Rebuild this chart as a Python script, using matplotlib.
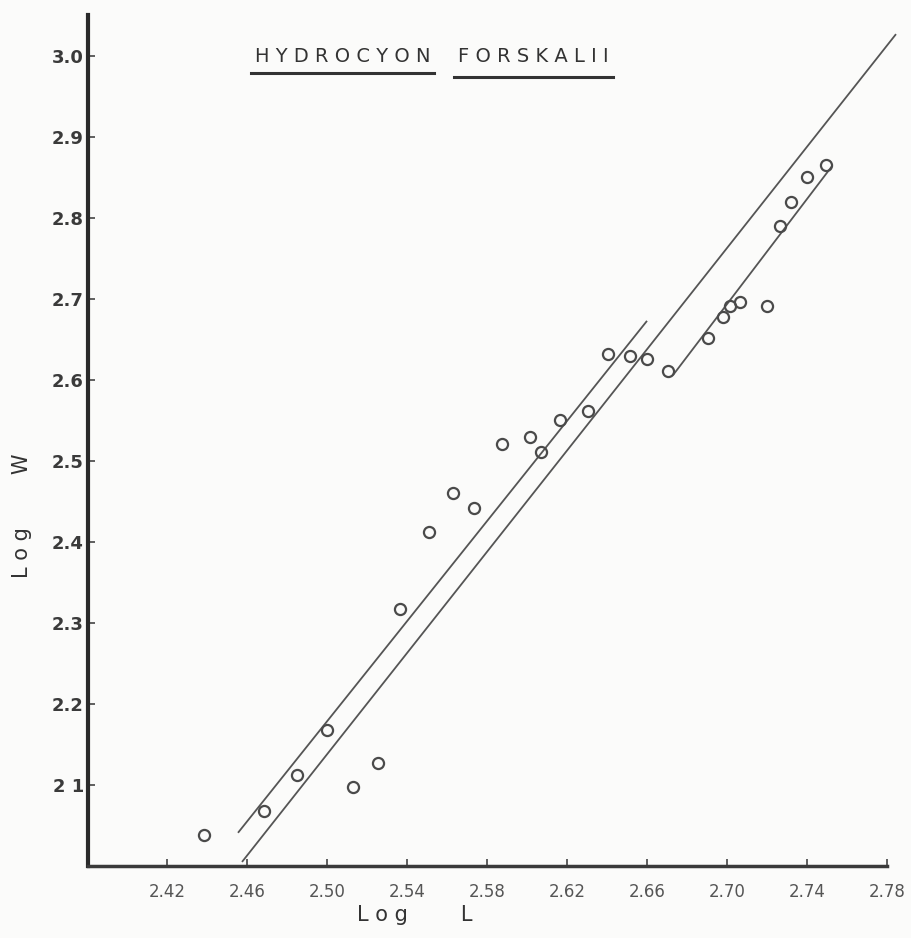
import matplotlib
matplotlib.use("Agg")
import matplotlib.pyplot as plt
from matplotlib.lines import Line2D

# ---- data ----
log_L = [2.4385, 2.4685, 2.485, 2.500, 2.513, 2.5255, 2.5365, 2.551, 2.563, 2.5735,
         2.5875, 2.6015, 2.607, 2.6165, 2.6305, 2.6405, 2.6515, 2.660, 2.6705,
         2.6905, 2.698, 2.7015, 2.7065, 2.720, 2.7265, 2.732, 2.740, 2.7495]
log_W = [2.038, 2.068, 2.112, 2.168, 2.098, 2.127, 2.317, 2.412, 2.460, 2.442,
         2.521, 2.530, 2.511, 2.551, 2.562, 2.632, 2.630, 2.626, 2.611,
         2.652, 2.678, 2.691, 2.696, 2.691, 2.790, 2.820, 2.851, 2.865]

# fitted lines (end points)
line_upper_L = [2.4555, 2.660]
line_upper_W = [2.041, 2.673]
line_long_L = [2.4575, 2.7845]
line_long_W = [2.005, 3.027]
line_short_L = [2.673, 2.7525]
line_short_W = [2.606, 2.864]

x_ticks = [2.42, 2.46, 2.50, 2.54, 2.58, 2.62, 2.66, 2.70, 2.74, 2.78]
x_tick_labels = ["2.42", "2.46", "2.50", "2.54", "2.58", "2.62", "2.66", "2.70", "2.74", "2.78"]
y_ticks = [2.1, 2.2, 2.3, 2.4, 2.5, 2.6, 2.7, 2.8, 2.9, 3.0]
y_tick_labels = ["2 1", "2.2", "2.3", "2.4", "2.5", "2.6", "2.7", "2.8", "2.9", "3.0"]

W, H = 912, 938
fig = plt.figure(figsize=(W / 100, H / 100), dpi=100)
fig.patch.set_facecolor("#fbfbfa")

left, right, top, bottom = 88, 887, 15, 866
ax = fig.add_axes([left / W, 1 - bottom / H, (right - left) / W, (bottom - top) / H])
ax.set_facecolor("none")
ax.set_xlim(2.3805, 2.78)
ax.set_ylim(2.0, 3.0506)

for s in ("top", "right"):
    ax.spines[s].set_visible(False)
ax.spines["left"].set_linewidth(3.0)
ax.spines["left"].set_color("#2a2a2a")
ax.spines["bottom"].set_linewidth(2.5)
ax.spines["bottom"].set_color("#3a3a3a")

ax.set_xticks(x_ticks)
ax.set_xticklabels(x_tick_labels)
ax.set_yticks(y_ticks)
ax.set_yticklabels(y_tick_labels, fontweight="bold")
ax.tick_params(axis="x", direction="in", length=5, width=1.2, color="#444444",
               labelsize=12, labelcolor="#555555", pad=12)
ax.tick_params(axis="y", direction="in", length=5, width=1.2, color="#444444",
               labelsize=13, labelcolor="#3a3a3a", pad=3)

line_kw = dict(color="#555555", linewidth=1.3, solid_capstyle="butt")
ax.plot(line_upper_L, line_upper_W, **line_kw)
ax.plot(line_long_L, line_long_W, clip_on=False, **line_kw)
ax.plot(line_short_L, line_short_W, **line_kw)

ax.plot(log_L, log_W, linestyle="none", marker="o", markersize=8,
        markerfacecolor="none", markeredgecolor="#4a4a4a", markeredgewidth=1.6,
        clip_on=False)

ax.set_xlabel("L o g        L", fontsize=15, color="#333333")
ax.xaxis.set_label_coords((415 - left) / (right - left), -(915 - bottom) / (bottom - top))
ax.set_ylabel("L o g        W", fontsize=15, color="#333333")
ax.yaxis.set_label_coords((22 - left) / (right - left), (bottom - 516) / (bottom - top))
ax.xaxis.label.set_va("center")
ax.yaxis.label.set_va("center")

# title with underlines
t1 = fig.text(255 / W, 1 - 57 / H, "H Y D R O C Y O N", fontsize=14, color="#333333",
              ha="left", va="center")
t2 = fig.text(458 / W, 1 - 57 / H, "F O R S K A L I I", fontsize=14, color="#333333",
              ha="left", va="center")
fig.canvas.draw()
r = fig.canvas.get_renderer()
for t, dy in ((t1, 16), (t2, 20)):
    bb = t.get_window_extent(r)
    y = (1 - 57 / H) - dy / H
    fig.add_artist(Line2D([bb.x0 / W - 4 / W, bb.x1 / W + 4 / W], [y, y],
                          transform=fig.transFigure, color="#333333", linewidth=2.2))

fig.savefig("out.png", dpi=100, facecolor=fig.get_facecolor())
